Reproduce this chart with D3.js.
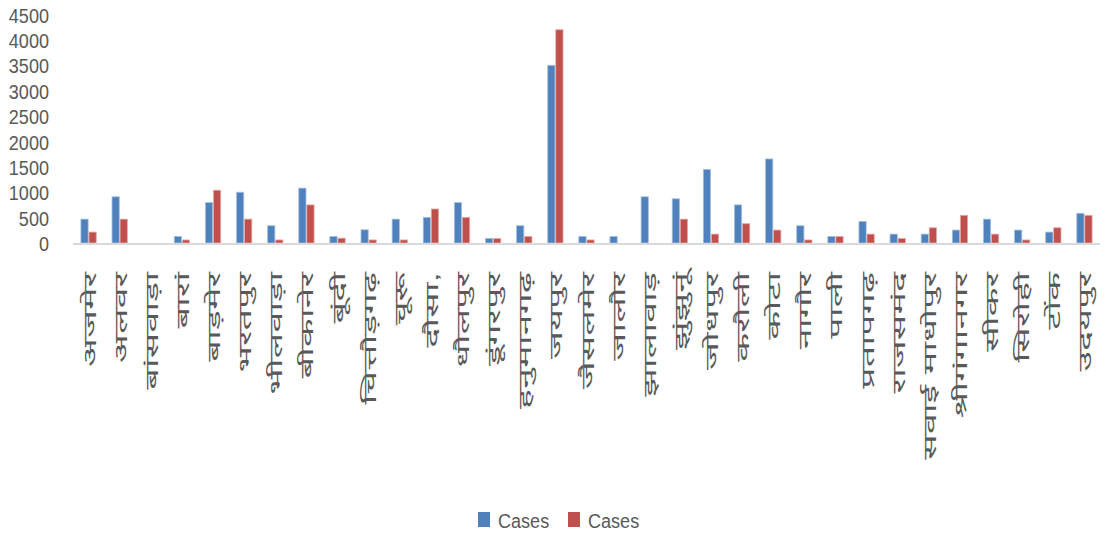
<!DOCTYPE html>
<html>
<head>
<meta charset="utf-8">
<script src="https://cdn.jsdelivr.net/npm/d3@7"></script>
<style>
  html, body { margin: 0; padding: 0; background: #ffffff; }
  svg { display: block; }
  text { font-family: "Liberation Sans", "Noto Sans", sans-serif; fill: #595959; }
</style>
</head>
<body>
<svg id="chart" width="1119" height="536"></svg>
<script>
// District names (Rajasthan)
const districts = [
  "अजमेर", "अलवर", "बांसवाड़ा", "बारां", "बाड़मेर", "भरतपुर", "भीलवाड़ा", "बीकानेर",
  "बूंदी", "चित्तौड़गढ़", "चूरू", "दौसा,", "धौलपुर", "डूंगरपुर", "हनुमानगढ़", "जयपुर",
  "जैसलमेर", "जालौर", "झालावाड़", "झुंझुनूं", "जोधपुर", "करौली", "कोटा", "नागौर",
  "पाली", "प्रतापगढ़", "राजसमंद", "सवाई माधोपुर", "श्रीगंगानगर", "सीकर", "सिरोही", "टोंक", "उदयपुर"
];

// First "Cases" series (blue)
const casesA = [
  470, 910, 0, 130, 795, 1000, 340, 1080,
  130, 260, 470, 505, 795, 90, 340, 3500,
  130, 130, 910, 870, 1450, 750, 1655, 340,
  130, 425, 175, 175, 255, 470, 255, 215, 585
];

// Second "Cases" series (red)
const casesB = [
  215, 470, 0, 60, 1040, 470, 60, 750,
  95, 60, 60, 670, 505, 90, 130, 4200,
  60, 0, 0, 470, 175, 380, 255, 60,
  130, 175, 90, 300, 545, 175, 60, 300, 545
];

const yTicks = [0, 500, 1000, 1500, 2000, 2500, 3000, 3500, 4000, 4500];
const seriesNames = ["Cases", "Cases"];
const seriesColors = ["#4F81BD", "#C0504D"];
const seriesStrokes = ["#a7c0e0", "#e3a9a7"];

const svg = d3.select("#chart");
const squeeze = 0.86; // narrow lettering

const plot = { left: 73, right: 1100, top: 14.5, bottom: 243 };

const x = d3.scaleBand()
  .domain(districts)
  .range([plot.left, plot.right])
  .paddingInner(0)
  .paddingOuter(0);

const inner = d3.scaleBand()
  .domain([0, 1])
  .range([0, x.bandwidth()])
  .paddingOuter(0.98)
  .paddingInner(0.1);

const y = d3.scaleLinear().domain([0, 4500]).range([plot.bottom, plot.top]);

// Y axis labels only (no line, no ticks)
const yAxis = svg.append("g")
  .attr("transform", `translate(49,0)`)
  .call(d3.axisLeft(y).tickValues(yTicks).tickSize(0).tickPadding(0).tickFormat(d3.format("d")));
yAxis.select(".domain").remove();
yAxis.selectAll("text")
  .attr("font-size", 21)
  .attr("fill", "#595959")
  .attr("font-family", null)
  .attr("dy", "0.36em")
  .attr("transform", `scale(${squeeze},1)`)
  .attr("x", 0);

// Bars
const series = [casesA, casesB];
series.forEach((vals, si) => {
  svg.append("g")
    .selectAll("rect")
    .data(districts.map((d, i) => ({ d, v: vals[i] })))
    .join("rect")
    .attr("x", p => x(p.d) + inner(si))
    .attr("width", inner.bandwidth())
    .attr("y", p => y(p.v))
    .attr("height", p => y(0) - y(p.v))
    .attr("fill", seriesColors[si])
    .attr("stroke", p => p.v > 0 ? seriesStrokes[si] : "none")
    .attr("stroke-width", 0.8);
});

// Category axis line
svg.append("line")
  .attr("x1", plot.left).attr("x2", plot.right)
  .attr("y1", y(0) + 1).attr("y2", y(0) + 1)
  .attr("stroke", "#d9d9d9").attr("stroke-width", 2);

// Rotated category labels, stretched along their reading direction
svg.append("g")
  .selectAll("text")
  .data(districts)
  .join("text")
  .attr("transform", d => `translate(${x(d) + x.bandwidth() / 2 + 7},${plot.bottom + 29}) rotate(-90) scale(1.8,0.85)`)
  .attr("text-anchor", "end")
  .attr("font-size", 21)
  .attr("fill", "#595959")
  .text(d => d);

// Legend
const legend = svg.append("g").attr("transform", "translate(478,512)");
seriesNames.forEach((name, i) => {
  const g = legend.append("g").attr("transform", `translate(${i * 90},0)`);
  g.append("rect").attr("width", 12).attr("height", 15).attr("fill", seriesColors[i]);
  g.append("text")
    .attr("transform", `translate(20,15.5) scale(${squeeze},1)`)
    .attr("font-size", 21)
    .attr("fill", "#595959")
    .text(name);
});
</script>
</body>
</html>
